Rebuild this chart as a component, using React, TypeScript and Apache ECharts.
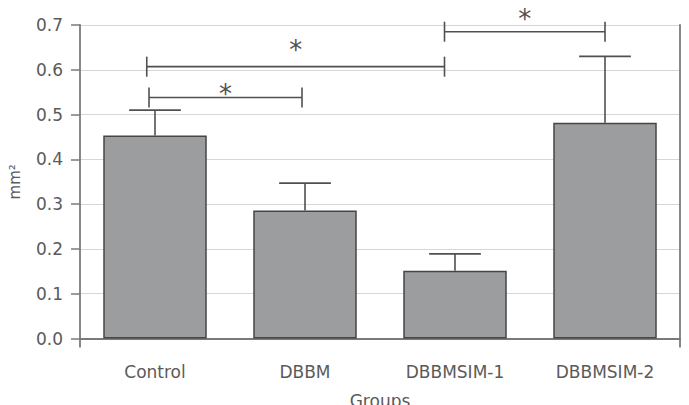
import { useEffect, useRef } from 'react';
import * as echarts from 'echarts';

// Mean defect area per group (mm²) and the top of each error bar
const groups = ['Control', 'DBBM', 'DBBMSIM-1', 'DBBMSIM-2'];
const meanArea = [0.453, 0.286, 0.151, 0.482];
const upperError = [0.51, 0.347, 0.189, 0.63];

// Value axis
const axisMin = 0;
const axisMax = 0.7;
const axisStep = 0.1;

// Significance brackets: ends in category units, bar height and marker height in mm²
const bracketStart = [-0.04, -0.055, 1.93];
const bracketEnd = [0.98, 1.93, 3.0];
const bracketLevel = [0.538, 0.607, 0.685];
const starLevel = [0.557, 0.656, 0.725];
const bracketMark = ['*', '*', '*'];

const FONT = 'DejaVu Sans';
const TEXT = '#5a5a5a';
const AXIS = '#7a7a7a';
const INK = '#505050';

export default function App() {
  const ref = useRef<HTMLDivElement>(null);

  useEffect(() => {
    document.body.style.margin = '0';
    if (!ref.current) return;
    const chart = echarts.init(ref.current, null, { renderer: 'svg' });

    const option: any = {
      animation: false,
      backgroundColor: '#ffffff',
      textStyle: { fontFamily: FONT },
      grid: { left: 80, right: 9, top: 25, bottom: 66.5, containLabel: false, outerBoundsMode: 'none' },
      xAxis: [
        {
          type: 'category',
          data: groups,
          position: 'bottom',
          axisLine: { lineStyle: { color: AXIS, width: 1.8 } },
          axisTick: { alignWithLabel: true, length: 9, lineStyle: { color: AXIS, width: 1.5 } },
          axisLabel: { fontSize: 17, color: TEXT, margin: 25, fontFamily: FONT },
          name: 'Groups',
          nameLocation: 'middle',
          nameGap: 54,
          nameTextStyle: { fontSize: 17, color: TEXT, fontFamily: FONT },
          splitLine: { show: false },
        },
        {
          type: 'value',
          position: 'top',
          min: 0,
          max: 1,
          interval: 1,
          axisLine: { show: true, lineStyle: { color: AXIS, width: 1.8 } },
          axisTick: { show: false },
          axisLabel: { show: false },
          splitLine: { show: false },
        },
      ],
      yAxis: [
        {
          type: 'value',
          min: axisMin,
          max: axisMax,
          interval: axisStep,
          axisLine: { show: true, lineStyle: { color: AXIS, width: 1.8 } },
          axisTick: { show: true, length: 9, lineStyle: { color: AXIS, width: 1.5 } },
          axisLabel: {
            fontSize: 17,
            color: TEXT,
            margin: 17,
            fontFamily: FONT,
            formatter: (v: number) => v.toFixed(1),
          },
          splitLine: { show: true, lineStyle: { color: '#d6d6d6', width: 1.2 } },
          name: 'mm²',
          nameLocation: 'middle',
          nameGap: 58,
          nameRotate: 90,
          nameTextStyle: { fontSize: 15, color: TEXT, fontFamily: FONT },
        },
        {
          type: 'value',
          position: 'right',
          min: axisMin,
          max: axisMax,
          interval: axisStep,
          axisLine: { show: true, lineStyle: { color: AXIS, width: 1.8 } },
          axisTick: { show: false },
          axisLabel: { show: false },
          splitLine: { show: false },
        },
      ],
      series: [
        {
          type: 'bar',
          xAxisIndex: 0,
          yAxisIndex: 0,
          data: meanArea,
          barWidth: '69%',
          itemStyle: { color: '#9c9d9f', borderColor: '#454545', borderWidth: 1.5 },
          z: 2,
        },
        {
          type: 'custom',
          xAxisIndex: 0,
          yAxisIndex: 0,
          data: groups.map((_, i) => [i, meanArea[i], upperError[i]]),
          encode: { x: 0, y: [1, 2] },
          z: 3,
          renderItem: (_params: any, api: any) => {
            const base = api.coord([api.value(0), api.value(1)]);
            const top = api.coord([api.value(0), api.value(2)]);
            const band = api.size([1, 0])[0];
            const half = (band * 0.69) / 4;
            const style = { stroke: INK, lineWidth: 1.6 };
            return {
              type: 'group',
              children: [
                { type: 'line', shape: { x1: base[0], y1: base[1], x2: top[0], y2: top[1] }, style },
                { type: 'line', shape: { x1: top[0] - half, y1: top[1], x2: top[0] + half, y2: top[1] }, style },
              ],
            };
          },
        },
        {
          type: 'custom',
          xAxisIndex: 0,
          yAxisIndex: 0,
          clip: false,
          itemStyle: { color: INK },
          data: bracketLevel.map((y, i) => [0, y, bracketStart[i], bracketEnd[i], starLevel[i]]),
          encode: { x: 0, y: 1 },
          z: 4,
          renderItem: (params: any, api: any) => {
            const origin = api.coord([0, api.value(1)]);
            const band = api.size([1, 0])[0];
            const x1 = origin[0] + api.value(2) * band;
            const x2 = origin[0] + api.value(3) * band;
            const y = origin[1];
            const sy = api.coord([0, api.value(4)])[1];
            const style = { stroke: INK, lineWidth: 1.6 };
            return {
              type: 'group',
              children: [
                { type: 'line', shape: { x1, y1: y, x2, y2: y }, style },
                { type: 'line', shape: { x1, y1: y - 10, x2: x1, y2: y + 10 }, style },
                { type: 'line', shape: { x1: x2, y1: y - 10, x2, y2: y + 10 }, style },
                {
                  type: 'text',
                  x: (x1 + x2) / 2,
                  y: sy + 5,
                  style: {
                    text: bracketMark[params.dataIndex],
                    fontSize: 26,
                    fontFamily: FONT,
                    fill: INK,
                    stroke: 'none',
                    align: 'center',
                    verticalAlign: 'middle',
                  },
                },
              ],
            };
          },
        },
      ],
    };

    chart.setOption(option);

    // Extend the left axis and right frame a tick's length below the baseline
    const left = chart.convertToPixel({ xAxisIndex: 1, yAxisIndex: 0 }, [0, axisMin]) as number[];
    const right = chart.convertToPixel({ xAxisIndex: 1, yAxisIndex: 0 }, [1, axisMin]) as number[];
    chart.setOption({
      graphic: [left, right].map((p) => ({
        type: 'line',
        shape: { x1: p[0], y1: p[1], x2: p[0], y2: p[1] + 9 },
        style: { stroke: AXIS, lineWidth: 1.8 },
        z: 10,
      })),
    });

    return () => chart.dispose();
  }, []);

  return <div ref={ref} style={{ width: 689, height: 405 }} />;
}
